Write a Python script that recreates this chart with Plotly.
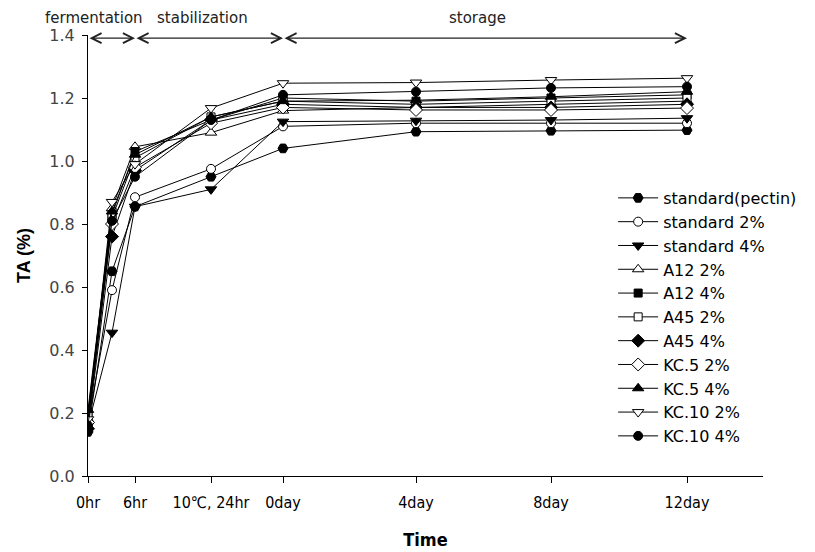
import plotly.graph_objects as go

# Time points (the 3hr point has no tick label)
time_labels = ["0hr", "3hr", "6hr", "10℃, 24hr", "0day", "4day", "8day", "12day"]
time_pos = [0, 24, 47, 123, 195, 328, 463, 599]
tick_idx = [0, 2, 3, 4, 5, 6, 7]

series_names = ["standard(pectin)", "standard 2%", "standard 4%", "A12 2%", "A12 4%",
                "A45 2%", "A45 4%", "KC.5 2%", "KC.5 4%", "KC.10 2%", "KC.10 4%"]

standard_pectin = [0.14, 0.65, 0.855, 0.95, 1.04, 1.093, 1.096, 1.098]
standard_2 = [0.17, 0.59, 0.885, 0.975, 1.11, 1.12, 1.12, 1.12]
standard_4 = [0.16, 0.455, 0.855, 0.91, 1.125, 1.128, 1.13, 1.136]
a12_2 = [0.18, 0.85, 1.045, 1.09, 1.16, 1.17, 1.18, 1.19]
a12_4 = [0.20, 0.83, 1.03, 1.13, 1.20, 1.19, 1.20, 1.21]
a45_2 = [0.19, 0.82, 1.01, 1.14, 1.19, 1.18, 1.19, 1.20]
a45_4 = [0.15, 0.76, 0.97, 1.13, 1.18, 1.17, 1.17, 1.18]
kc5_2 = [0.17, 0.80, 0.98, 1.12, 1.17, 1.162, 1.162, 1.168]
kc5_4 = [0.21, 0.84, 1.02, 1.14, 1.19, 1.193, 1.204, 1.22]
kc10_2 = [0.18, 0.87, 0.99, 1.168, 1.247, 1.249, 1.257, 1.263]
kc10_4 = [0.16, 0.81, 0.95, 1.13, 1.21, 1.22, 1.232, 1.236]

series_values = [standard_pectin, standard_2, standard_4, a12_2, a12_4,
                 a45_2, a45_4, kc5_2, kc5_4, kc10_2, kc10_4]

symbols = ["hexagon2", "circle", "triangle-down", "triangle-up", "square",
           "square", "diamond", "diamond", "triangle-up", "triangle-down", "circle"]
fills = ["black", "white", "black", "white", "black",
         "white", "black", "white", "black", "white", "black"]
sizes = [10, 9, 10, 10, 8, 8, 10, 10, 10, 10, 9]

phase_labels = ["fermentation", "stabilization", "storage"]
phase_bounds = [(0, 47), (47, 195), (195, 599)]
phase_text_x = [6, 114, 389]

narrow = "Liberation Sans Narrow, DejaVu Sans Condensed, Liberation Sans, Arial, sans-serif"

fig = go.Figure()
for name, vals, sym, fc, sz in zip(series_names, series_values, symbols, fills, sizes):
    fig.add_trace(go.Scatter(
        x=time_pos, y=vals, mode="lines+markers", name=name,
        line=dict(color="black", width=1),
        marker=dict(symbol=sym, color=fc, size=sz, line=dict(color="black", width=1)),
    ))

annotations = []
for (x0, x1), lab, tx in zip(phase_bounds, phase_labels, phase_text_x):
    annotations.append(dict(
        x=x1, y=1.39, ax=x0, ay=1.39, xref="x", yref="y", axref="x", ayref="y",
        showarrow=True, arrowhead=5, startarrowhead=5, arrowside="end+start",
        arrowsize=1.5, startarrowsize=1.5, arrowwidth=1.3, arrowcolor="#222", text=""))
    annotations.append(dict(
        x=tx, y=1.0, xref="x", yref="paper",
        yanchor="bottom", yshift=6, showarrow=False, text=lab,
        font=dict(family="DejaVu Sans", size=15, color="#222")))

fig.update_layout(
    width=815, height=552,
    margin=dict(l=88, r=52, t=35, b=76, autoexpand=False),
    plot_bgcolor="white", paper_bgcolor="white",
    showlegend=True,
    legend=dict(x=0.778, y=0.669, xanchor="left", yanchor="top",
                bgcolor="rgba(0,0,0,0)", font=dict(family="DejaVu Sans", size=16, color="black"),
                tracegroupgap=0, itemwidth=40),
    annotations=annotations,
    xaxis=dict(
        range=[0, 675], showline=True, linecolor="black", linewidth=1,
        ticks="outside", ticklen=6, tickcolor="black",
        tickvals=[time_pos[i] for i in tick_idx], ticktext=[time_labels[i] for i in tick_idx],
        tickfont=dict(family=narrow, size=16, color="black"),
        ticklabelstandoff=6, automargin=False,
        showgrid=False, zeroline=False,
        title=dict(text="<b>Time</b>", standoff=22,
                   font=dict(family=narrow, size=18, color="black")),
    ),
    yaxis=dict(
        range=[0, 1.4], showline=True, linecolor="black", linewidth=1,
        ticks="outside", ticklen=5, tickcolor="black",
        tickvals=[0, 0.2, 0.4, 0.6, 0.8, 1.0, 1.2, 1.4], tickformat=".1f",
        tickfont=dict(family="DejaVu Sans", size=16, color="#444"),
        ticklabelstandoff=4, automargin=False,
        showgrid=False, zeroline=False,
        title=dict(text="<b>TA (%)</b>", standoff=14,
                   font=dict(family="Liberation Sans", size=18, color="black")),
    ),
)

fig.write_html("out.html")
